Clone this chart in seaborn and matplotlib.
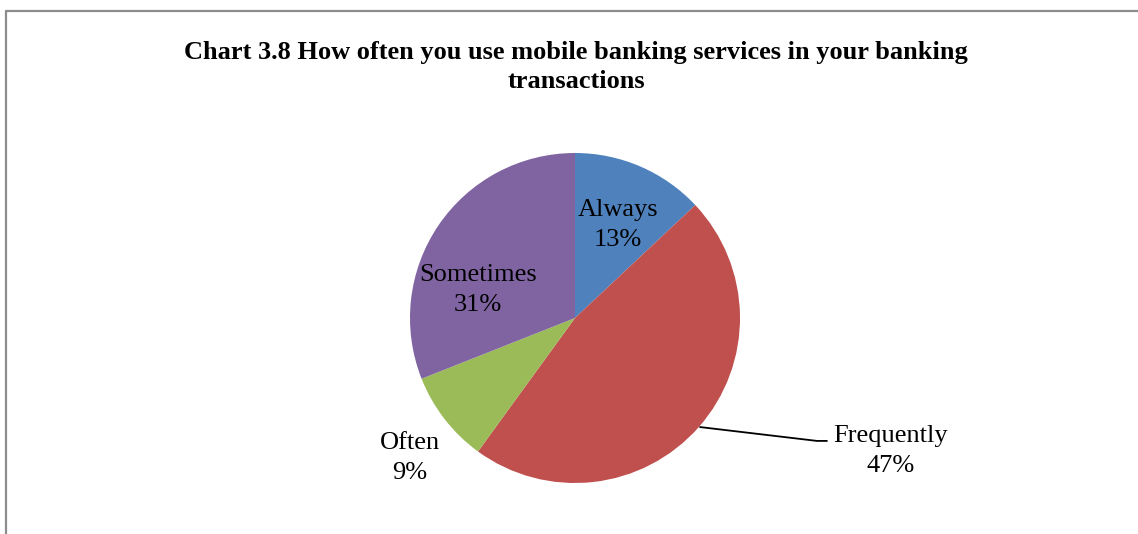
import matplotlib
matplotlib.use("Agg")
import matplotlib.pyplot as plt
from matplotlib.lines import Line2D
import seaborn as sns

categories = ["Always", "Frequently", "Often", "Sometimes"]
shares = [13, 47, 9, 31]
colors = ["#4F81BD", "#C0504D", "#9BBB59", "#8064A2"]
title = "Chart 3.8 How often you use mobile banking services in your banking\ntransactions"

sns.set_theme(style="white")
plt.rcParams["font.family"] = ["Liberation Serif", "DejaVu Serif"]
plt.rcParams["text.color"] = "black"

W, H = 1138, 534
fig = plt.figure(figsize=(W / 100, H / 100), dpi=100)
fig.patch.set_facecolor("white")

# chart frame (left and top edges visible)
fig.add_artist(Line2D([5.5 / W, 5.5 / W], [0, 1 - 10.5 / H], color="#8c8c8c", lw=1.6))
fig.add_artist(Line2D([5.5 / W, 1.0], [1 - 10.5 / H, 1 - 10.5 / H], color="#8c8c8c", lw=1.6))

fig.text(576 / W, 1 - 67 / H, title, ha="center", va="center", fontsize=19,
         fontweight="bold", linespacing=1.34, color="black")

cx, cy, r = 575, 318, 165
ax = fig.add_axes([(cx - r) / W, (H - cy - r) / H, 2 * r / W, 2 * r / H])
palette = sns.color_palette(colors)
ax.pie(shares, colors=palette, startangle=90, counterclock=False,
       wedgeprops=dict(linewidth=0))
ax.set_xlim(-1, 1)
ax.set_ylim(-1, 1)
ax.set_aspect("equal")
ax.axis("off")

label_pos = {
    "Always": (0.26, 0.565),
    "Sometimes": (-0.59, 0.17),
    "Often": (-1.0, -0.85),
    "Frequently": (1.91, -0.805),
}
for name, val in zip(categories, shares):
    x, y = label_pos[name]
    ax.text(x, y, f"{name}\n{val}%", ha="center", va="center", fontsize=19,
            color="black", linespacing=1.45, clip_on=False)

# leader line for the Frequently label
ax.add_line(Line2D([0.758, 1.467, 1.527], [-0.661, -0.745, -0.745],
                   color="black", lw=1.3, clip_on=False))

fig.savefig("out.png", dpi=100, facecolor="white")
